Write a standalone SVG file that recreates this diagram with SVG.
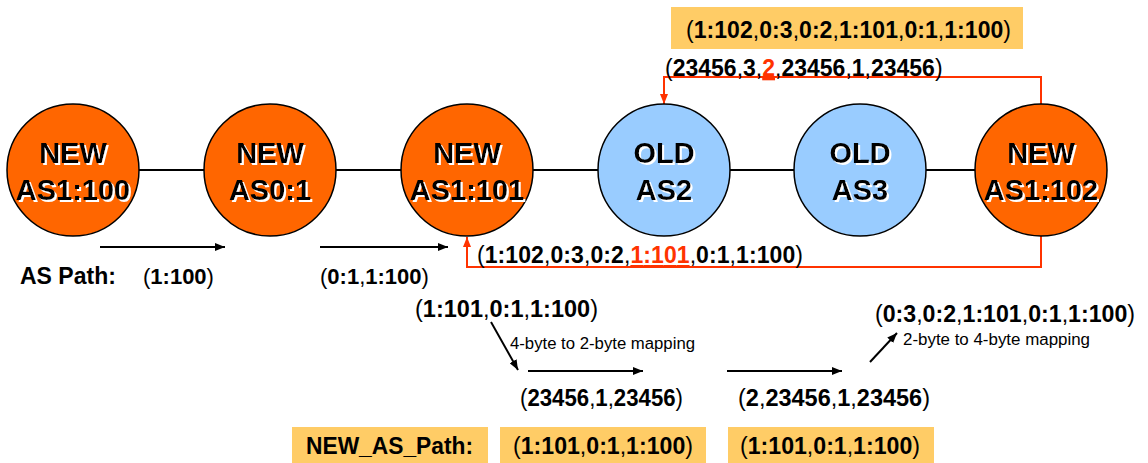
<svg xmlns="http://www.w3.org/2000/svg" width="1148" height="463" viewBox="0 0 1148 463">
<defs>
<style>
text{font-family:"Liberation Sans",Arial,sans-serif;fill:#000}
.b{font-weight:bold}
.n{font-weight:normal}
.node-new{fill:#FF6600;stroke:#000;stroke-width:1.5}
.node-old{fill:#99CCFF;stroke:#000;stroke-width:1.5}
.nt{font-size:29px;font-weight:bold;text-anchor:middle}
.link{stroke:#000;stroke-width:2;fill:none}
.red{stroke:#FF3300;stroke-width:2;fill:none}
.arr{stroke:#000;stroke-width:2;fill:none}
.box{fill:#FFCC66}
.rt{fill:#FF3300;text-decoration:underline}
</style>
<filter id="sh" x="-10%" y="-20%" width="130%" height="150%">
<feOffset in="SourceAlpha" dx="1.5" dy="1.5" result="o"/>
<feFlood flood-color="#ffffff"/>
<feComposite in2="o" operator="in" result="s"/>
<feMerge><feMergeNode in="s"/><feMergeNode in="SourceGraphic"/></feMerge>
</filter>
<marker id="ah" markerWidth="10" markerHeight="8" refX="10" refY="4" orient="auto" markerUnits="userSpaceOnUse">
<path d="M0,0 L10,4 L0,8 Z" fill="#000"/>
</marker>
<marker id="rh" markerWidth="10" markerHeight="8" refX="10" refY="4" orient="auto" markerUnits="userSpaceOnUse">
<path d="M0,0 L10,4 L0,8 Z" fill="#FF3300"/>
</marker>
</defs>
<rect width="1148" height="463" fill="#fff"/>

<g id="connectors">
<line class="link" x1="73" y1="170" x2="1041" y2="170"/>
<path class="red" d="M1041,104 V77 H664 V104" marker-end="url(#rh)"/>
<path class="red" d="M1041,236 V267 H467 V237" marker-end="url(#rh)"/>
<line class="arr" x1="100" y1="247" x2="225" y2="247" marker-end="url(#ah)"/>
<line class="arr" x1="320" y1="247" x2="448" y2="247" marker-end="url(#ah)"/>
<line class="arr" x1="491" y1="322" x2="518" y2="370" marker-end="url(#ah)" stroke-width="1.5"/>
<line class="arr" x1="528" y1="371" x2="643" y2="371" marker-end="url(#ah)"/>
<line class="arr" x1="727" y1="371" x2="842" y2="371" marker-end="url(#ah)"/>
<line class="arr" x1="870" y1="362" x2="897" y2="333" marker-end="url(#ah)" stroke-width="1.5"/>
</g>

<g id="n1">
<circle class="node-new" cx="73" cy="170" r="66"/>
<g filter="url(#sh)"><text class="nt" x="73" y="163">NEW</text><text class="nt" x="73" y="200">AS1:100</text></g>
</g>
<g id="n2">
<circle class="node-new" cx="270" cy="170" r="66"/>
<g filter="url(#sh)"><text class="nt" x="270" y="163">NEW</text><text class="nt" x="270" y="200">AS0:1</text></g>
</g>
<g id="n3">
<circle class="node-new" cx="467" cy="170" r="66"/>
<g filter="url(#sh)"><text class="nt" x="467" y="163">NEW</text><text class="nt" x="467" y="200">AS1:101</text></g>
</g>
<g id="n4">
<circle class="node-old" cx="664" cy="170" r="66"/>
<g filter="url(#sh)"><text class="nt" x="664" y="163">OLD</text><text class="nt" x="664" y="200">AS2</text></g>
</g>
<g id="n5">
<circle class="node-old" cx="860" cy="170" r="66"/>
<g filter="url(#sh)"><text class="nt" x="860" y="163">OLD</text><text class="nt" x="860" y="200">AS3</text></g>
</g>
<g id="n6">
<circle class="node-new" cx="1041" cy="170" r="66"/>
<g filter="url(#sh)"><text class="nt" x="1041" y="163">NEW</text><text class="nt" x="1041" y="200">AS1:102</text></g>
</g>

<g id="top-path">
<rect class="box" x="671" y="7" width="352" height="42"/>
<text x="686" y="38" font-size="23" class="b" textLength="325"><tspan class="n">(</tspan>1:102<tspan class="n">,</tspan>0:3<tspan class="n">,</tspan>0:2<tspan class="n">,</tspan>1:101<tspan class="n">,</tspan>0:1<tspan class="n">,</tspan>1:100<tspan class="n">)</tspan></text>
<text x="665" y="76" font-size="23" class="b"><tspan class="n">(</tspan>23456<tspan class="n">,</tspan>3<tspan class="n">,</tspan><tspan class="rt">2</tspan><tspan class="n">,</tspan>23456<tspan class="n">,</tspan>1<tspan class="n">,</tspan>23456<tspan class="n">)</tspan></text>
</g>

<g id="return-path">
<text x="477" y="263" font-size="23" class="b" textLength="326"><tspan class="n">(</tspan>1:102<tspan class="n">,</tspan>0:3<tspan class="n">,</tspan>0:2<tspan class="n">,</tspan><tspan class="rt">1:101</tspan><tspan class="n">,</tspan>0:1<tspan class="n">,</tspan>1:100<tspan class="n">)</tspan></text>
</g>

<g id="as-path">
<text x="20" y="284" font-size="23" class="b">AS Path:</text>
<text x="143" y="284" font-size="22" class="b"><tspan class="n">(</tspan>1:100<tspan class="n">)</tspan></text>
<text x="320" y="284" font-size="22" class="b"><tspan class="n">(</tspan>0:1<tspan class="n">,</tspan>1:100<tspan class="n">)</tspan></text>
<text x="415" y="317" font-size="23" class="b" textLength="183" lengthAdjust="spacingAndGlyphs"><tspan class="n">(</tspan>1:101<tspan class="n">,</tspan>0:1<tspan class="n">,</tspan>1:100<tspan class="n">)</tspan></text>
<text x="510" y="349" font-size="16" textLength="185" lengthAdjust="spacingAndGlyphs">4-byte to 2-byte mapping</text>
<text x="520" y="406" font-size="23" class="b" textLength="163" lengthAdjust="spacingAndGlyphs"><tspan class="n">(</tspan>23456<tspan class="n">,</tspan>1<tspan class="n">,</tspan>23456<tspan class="n">)</tspan></text>
<text x="738" y="406" font-size="23" class="b" textLength="192" lengthAdjust="spacingAndGlyphs"><tspan class="n">(</tspan>2<tspan class="n">,</tspan>23456<tspan class="n">,</tspan>1<tspan class="n">,</tspan>23456<tspan class="n">)</tspan></text>
<text x="875" y="322" font-size="23" class="b" textLength="260" lengthAdjust="spacingAndGlyphs"><tspan class="n">(</tspan>0:3<tspan class="n">,</tspan>0:2<tspan class="n">,</tspan>1:101<tspan class="n">,</tspan>0:1<tspan class="n">,</tspan>1:100<tspan class="n">)</tspan></text>
<text x="903" y="345" font-size="16" textLength="187" lengthAdjust="spacingAndGlyphs">2-byte to 4-byte mapping</text>
</g>

<g id="new-as-path">
<rect class="box" x="292" y="427" width="196" height="36"/>
<rect class="box" x="500" y="427" width="206" height="36"/>
<rect class="box" x="728" y="427" width="206" height="36"/>
<text x="306" y="454" font-size="23" class="b" textLength="167" lengthAdjust="spacingAndGlyphs">NEW_AS_Path:</text>
<text x="513" y="454" font-size="23" class="b" textLength="180" lengthAdjust="spacingAndGlyphs"><tspan class="n">(</tspan>1:101<tspan class="n">,</tspan>0:1<tspan class="n">,</tspan>1:100<tspan class="n">)</tspan></text>
<text x="740" y="454" font-size="23" class="b" textLength="180" lengthAdjust="spacingAndGlyphs"><tspan class="n">(</tspan>1:101<tspan class="n">,</tspan>0:1<tspan class="n">,</tspan>1:100<tspan class="n">)</tspan></text>
</g>
</svg>
